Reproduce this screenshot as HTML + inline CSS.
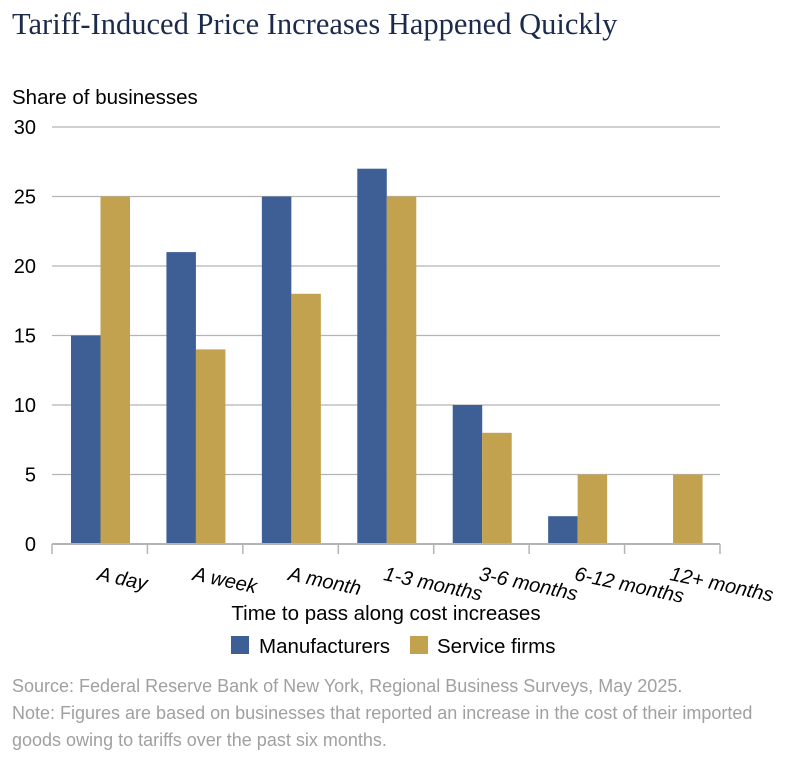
<!DOCTYPE html>
<html><head><meta charset="utf-8"><style>
body{margin:0;background:#fff;width:796px;height:766px;overflow:hidden;font-family:"Liberation Sans",sans-serif}
</style></head><body>
<svg width="796" height="766" xmlns="http://www.w3.org/2000/svg">
<text x="12" y="34" font-family="Liberation Serif, serif" font-size="30.5" fill="#1c2b4b">Tariff-Induced Price Increases Happened Quickly</text>
<text x="12" y="104" font-size="20.5" fill="#000">Share of businesses</text>
<g id="grid"></g><g id="bars"></g><g id="xaxis"></g>
<text x="386" y="620" font-size="20.5" text-anchor="middle" fill="#000">Time to pass along cost increases</text>
<rect x="231" y="636" width="18" height="18" fill="#3e5f95"/>
<text x="259" y="653" font-size="20.5">Manufacturers</text>
<rect x="410" y="636" width="18" height="18" fill="#c3a24f"/>
<text x="437" y="653" font-size="20.5">Service firms</text>
<text x="12" y="692" font-size="18" fill="#a0a0a0">Source: Federal Reserve Bank of New York, Regional Business Surveys, May 2025.</text>
<text x="12" y="719" font-size="18" fill="#a0a0a0">Note: Figures are based on businesses that reported an increase in the cost of their imported</text>
<text x="12" y="746" font-size="18" fill="#a0a0a0">goods owing to tariffs over the past six months.</text>
</svg>
<script>
const categories=["A day","A week","A month","1-3 months","3-6 months","6-12 months","12+ months"];
const manufacturers=[15,21,25,27,10,2,0];
const serviceFirms=[25,14,18,25,8,5,5];
const yTicks=[0,5,10,15,20,25,30];
const NS="http://www.w3.org/2000/svg";
const x0=52,x1=720,y0=544,y1=127,yMax=30;
const cw=(x1-x0)/categories.length;
const ys=v=>y0-(v/yMax)*(y0-y1);
const xs=i=>x0+i*cw;
function mk(t,a,p){const e=document.createElementNS(NS,t);for(const k in a)e.setAttribute(k,a[k]);p.appendChild(e);return e;}
const grid=document.getElementById('grid'),bars=document.getElementById('bars'),xa=document.getElementById('xaxis');
yTicks.forEach(v=>{
 if(v>0){const l=mk('line',{x1:x0,x2:x1,y1:ys(v),y2:ys(v),stroke:'#b4b4b4','stroke-width':1.3},grid);
 
 }
 const t=mk('text',{x:36,y:ys(v)+7,'font-size':20,'text-anchor':'end'},grid);t.textContent=v;
 
 
});
const bw=29.5,off=19;
categories.forEach((c,i)=>{
 const xm=xs(i)+off;
 if(manufacturers[i]>0){const r=mk('rect',{x:xm,y:ys(manufacturers[i]),width:bw,height:y0-ys(manufacturers[i]),fill:'#3e5f95'},bars);
 
 }
 if(serviceFirms[i]>0){const r=mk('rect',{x:xm+bw,y:ys(serviceFirms[i]),width:bw,height:y0-ys(serviceFirms[i]),fill:'#c3a24f'},bars);
 
 }
 const sx=xs(i)+cw/2-2;
 const t=mk('text',{x:sx,y:580,'font-size':20,'font-style':'italic','text-anchor':'start',transform:`rotate(12 ${sx} 574)`},xa);
 t.textContent=c;
 
 
});
const ax=mk('line',{x1:x0,x2:x1,y1:y0,y2:y0,stroke:'#b4b4b4','stroke-width':2},xa);


for(let i=0;i<=categories.length;i++){const l=mk('line',{x1:xs(i),x2:xs(i),y1:y0,y2:y0+10,stroke:'#b4b4b4','stroke-width':1.5},xa);
 
 }
</script>
</body></html>
